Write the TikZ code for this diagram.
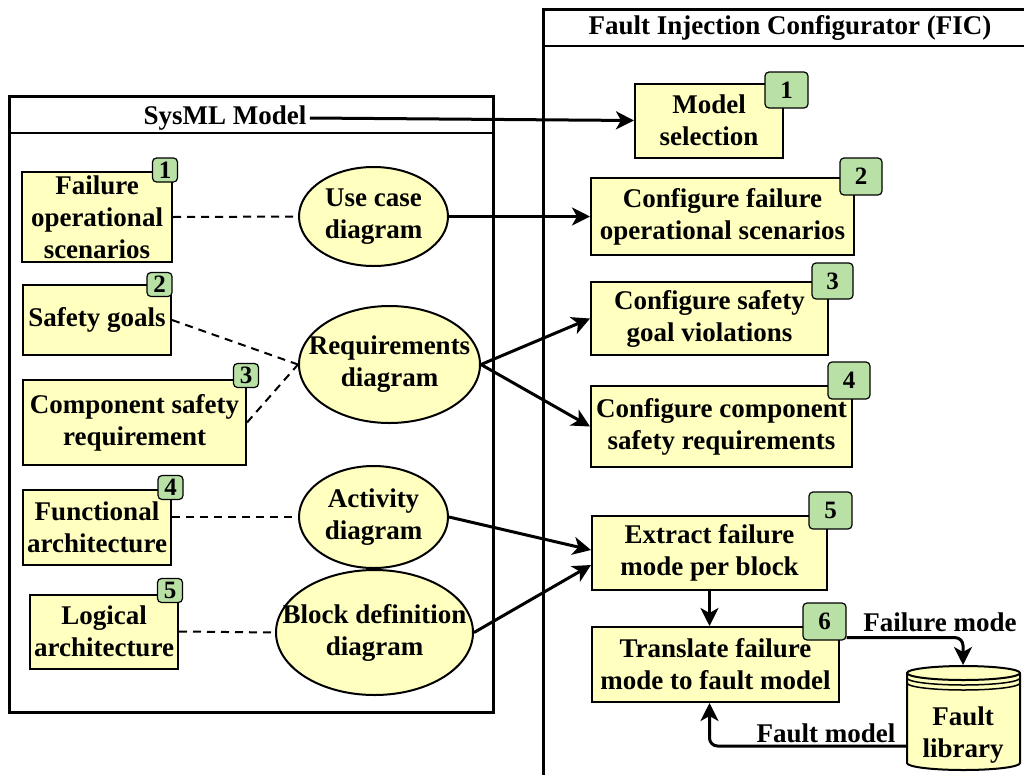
\documentclass[tikz,border=0pt]{standalone}
\usepackage{fontspec}
\setmainfont{Liberation Serif}
\usetikzlibrary{shapes.geometric,arrows.meta,calc}

\definecolor{boxyellow}{RGB}{255,255,192}
\definecolor{badgegreen}{RGB}{185,224,165}

\tikzset{
  txt/.style={font=\bfseries\fontsize{27}{32}\selectfont, align=center},
  box/.style={txt, draw, line width=2pt, fill=boxyellow, inner sep=0pt},
  usecase/.style={txt, ellipse, draw, line width=2pt, fill=boxyellow, inner sep=-40pt},
  badge/.style={draw, line width=1.2pt, fill=badgegreen, rounded corners=4pt, inner sep=0pt,
    font=\bfseries\fontsize{25}{28}\selectfont},
  flow/.style={line width=3pt, -{Stealth[length=18pt,width=18pt,inset=5pt]}},
  link/.style={line width=2pt, dash pattern=on 8pt off 6pt},
}

\begin{document}
\begin{tikzpicture}[x=1pt,y=-1pt]
  \useasboundingbox (0,0) rectangle (1024,774);
  \clip (0,0) rectangle (1024,774);

  % frames
  \draw[line width=3pt] (9,96) rectangle (493,712);
  \draw[line width=2pt] (9,133) -- (493,133);
  \node[txt] (sysml) at (225,118) {SysML Model};
  \draw[line width=3pt] (543,9) rectangle (1040,790);
  \draw[line width=1.5pt] (543,46) -- (1030,46);
  \node[txt] (fic) at (790,28) {Fault Injection Configurator (FIC)};

  % sysml elements
  \node[box, minimum width=150pt, minimum height=90pt] (l1) at (97,217) {Failure\\operational\\scenarios};
  \node[box, minimum width=148pt, minimum height=70pt] (l2) at (97,320) {Safety goals};
  \node[box, minimum width=223pt, minimum height=85pt] (l3) at (134.5,422.5) {Component safety\\requirement};
  \node[box, minimum width=148pt, minimum height=75pt] (l4) at (97,527.5) {Functional\\architecture};
  \node[box, minimum width=148pt, minimum height=74pt] (l5) at (104,631.5) {Logical\\architecture};

  \node[badge, minimum width=25pt, minimum height=24pt] (a1) at (165,170) {1};
  \node[badge, minimum width=25pt, minimum height=24pt] (a2) at (159.5,284.5) {2};
  \node[badge, minimum width=25pt, minimum height=24pt] (a3) at (246,375.5) {3};
  \node[badge, minimum width=25pt, minimum height=24pt] (a4) at (170.5,487.5) {4};
  \node[badge, minimum width=25pt, minimum height=24pt] (a5) at (170,590.5) {5};

  % diagrams
  \node[usecase, minimum width=149pt, minimum height=99pt] (uc) at (373.5,216.5) {Use case\\diagram};
  \node[usecase, minimum width=181pt, minimum height=117pt] (req) at (389.5,364.5) {Requirements\\diagram};
  \node[usecase, minimum width=149pt, minimum height=102pt] (act) at (373.5,517) {Activity\\diagram};
  \node[usecase, minimum width=197pt, minimum height=125pt] (bdd) at (374.5,632.5) {Block definition\\diagram};

  \draw[link] (l1.east) -- (uc.west);
  \draw[link] (l2.east) -- (req.west);
  \draw[link] (l3.east) -- (req.west);
  \draw[link] (act.west -| l4.east) -- (act.west);
  \draw[link] (l5.east) -- (bdd.west);

  % fic steps
  \node[box, minimum width=148pt, minimum height=74pt] (r1) at (709,120.5) {Model\\selection};
  \node[box, minimum width=263pt, minimum height=77pt] (r2) at (722.5,216.5) {Configure failure\\operational scenarios};
  \node[box, minimum width=237pt, minimum height=73pt] (r3) at (709.5,318.5) {Configure safety\\goal violations};
  \node[box, minimum width=261pt, minimum height=81pt] (r4) at (721.5,426.5) {Configure component\\safety requirements};
  \node[box, minimum width=235pt, minimum height=74pt] (r5) at (709.5,553) {Extract failure\\mode per block};
  \node[box, minimum width=247pt, minimum height=75pt] (r6) at (715.5,664.5) {Translate failure\\mode to fault model};

  \node[badge, minimum width=43pt, minimum height=36pt] (b1) at (786.5,90) {1};
  \node[badge, minimum width=42pt, minimum height=37pt] (b2) at (861,176.5) {2};
  \node[badge, minimum width=41pt, minimum height=36pt] (b3) at (832.5,281) {3};
  \node[badge, minimum width=42pt, minimum height=37pt] (b4) at (849,380.5) {4};
  \node[badge, minimum width=43pt, minimum height=37pt] (b5) at (830.5,510.5) {5};
  \node[badge, minimum width=43pt, minimum height=37pt] (b6) at (824.5,621.5) {6};

  % fault library
  \draw[line width=2pt, fill=boxyellow] (907,673) -- (907,763)
    arc[start angle=180, end angle=0, x radius=56.5, y radius=7] -- (1020,673)
    arc[start angle=0, end angle=-180, x radius=56.5, y radius=7] -- cycle;
  \draw[line width=2pt] (907,673) arc[start angle=180, end angle=0, x radius=56.5, y radius=7];
  \draw[line width=1.5pt] (907,678) arc[start angle=180, end angle=0, x radius=56.5, y radius=7];
  \draw[line width=1.5pt] (907,683) arc[start angle=180, end angle=0, x radius=56.5, y radius=7];
  \node[txt] (lib) at (963,735) {Fault\\library};
  \coordinate (libtop) at (963,665);
  \coordinate (libleft) at (907,746);

  % arrows
  \draw[flow] (sysml.east) -- (r1.west);
  \draw[flow] (uc.east) -- (r2.west);
  \draw[flow] (req.east) -- (r3.west);
  \draw[flow] (req.east) -- (r4.west);
  \draw[flow] (act.east) -- ($(r5.west)+(0,-3)$);
  \draw[flow] (bdd.east) -- ($(r5.west)+(0,12)$);
  \draw[flow] (r5.south) -- (r5.south |- r6.north);
  \draw[flow, rounded corners=8pt] ($(b6.south east)+(0,-3)$) -| (libtop);
  \draw[flow, rounded corners=8pt] (libleft) -| (r5.south |- r6.south);

  \node[txt] (fmode) at (940,622) {Failure mode};
  \node[txt] (fmodel) at (826,733) {Fault model};
\end{tikzpicture}
\end{document}
